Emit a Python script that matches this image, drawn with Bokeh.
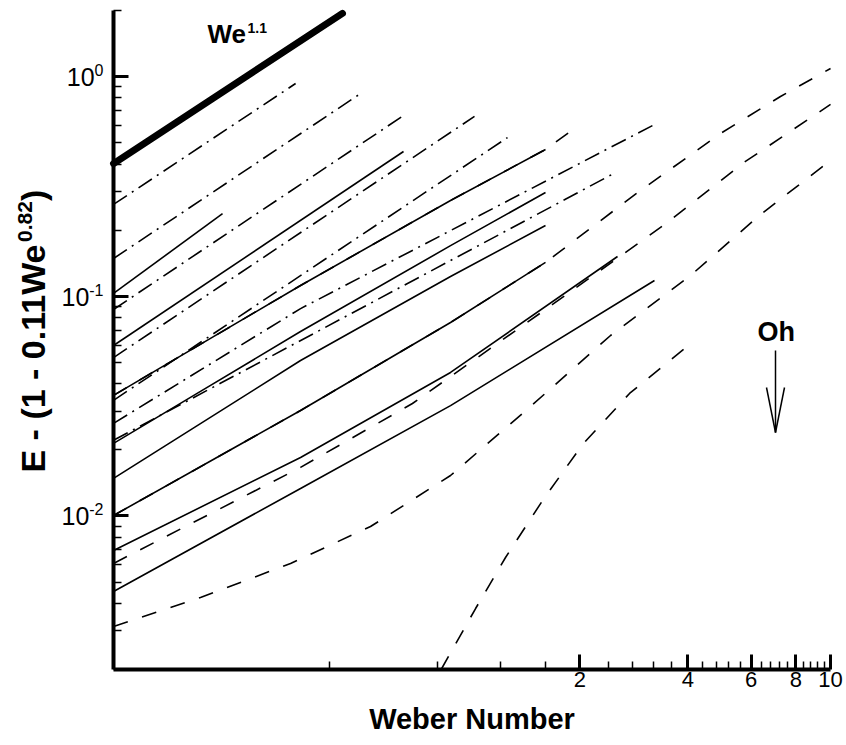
import math
from bokeh.plotting import figure
from bokeh.models import FixedTicker, Label, Arrow
from bokeh.embed import file_html
from bokeh.resources import INLINE

# ---------------- data (Weber number, E - (1 - 0.11 We^0.82)) ----------------
we_ref = [0.1, 0.435]
e_ref = [0.402, 1.94]

# dash-dot family
we_dd1 = [0.1, 0.322]
e_dd1 = [0.262, 0.930]
we_dd2 = [0.1, 0.489]
e_dd2 = [0.1486, 0.838]
we_dd3 = [0.1, 0.644]
e_dd3 = [0.0871, 0.665]
we_dd4 = [0.1, 1.016]
e_dd4 = [0.0526, 0.659]
we_dd5 = [0.1, 1.256]
e_dd5 = [0.0336, 0.528]
we_dd6 = [0.1, 0.3324, 3.188]
e_dd6 = [0.0264, 0.0879, 0.599]
we_dd7 = [0.1, 2.482]
e_dd7 = [0.0221, 0.362]

# solid family
we_s1 = [0.1, 0.2014]
e_s1 = [0.103, 0.238]
we_s2 = [0.1, 0.644]
e_s2 = [0.0597, 0.456]
we_s3 = [0.1, 0.3324, 0.871, 1.603]
e_s3 = [0.0354, 0.1120, 0.273, 0.466]
we_s4 = [0.1, 0.1748, 0.3324, 0.871, 1.603]
e_s4 = [0.0214, 0.0369, 0.0691, 0.170, 0.297]
we_s5 = [0.1, 0.3324, 0.871, 1.603]
e_s5 = [0.01482, 0.0510, 0.1230, 0.210]
we_s6 = [0.1, 0.3324, 0.871, 1.603]
e_s6 = [0.01005, 0.0302, 0.0760, 0.1426]
we_s7 = [0.1, 0.3324, 0.871, 2.546]
e_s7 = [0.00696, 0.01846, 0.0450, 0.1518]
we_s8 = [0.1, 0.3324, 0.871, 3.228]
e_s8 = [0.00453, 0.01334, 0.0318, 0.118]

# dashed family
we_d1 = [0.1, 0.3324, 0.871, 1.603, 2.876, 4.933, 7.25, 10.0]
e_d1 = [0.01005, 0.0302, 0.0760, 0.1426, 0.294, 0.551, 0.812, 1.089]
we_d2 = [0.1, 0.3324, 0.682, 1.677, 3.443, 5.79, 10.0]
e_d2 = [0.00608, 0.01664, 0.0325, 0.0918, 0.212, 0.411, 0.747]
we_d3 = [0.1, 0.1748, 0.3117, 0.521, 0.871, 1.456, 2.434, 4.07, 6.38, 10.0]
e_d3 = [0.00314, 0.00425, 0.00608, 0.00895, 0.01528, 0.0315, 0.0663, 0.1244, 0.2357, 0.415]
we_d4 = [0.82, 1.023, 1.240, 1.573, 2.033, 2.750, 4.044]
e_d4 = [0.002, 0.00379, 0.00647, 0.01176, 0.02114, 0.0361, 0.0603]
we_d5 = [0.1, 0.3324, 0.871, 1.603, 1.932]
e_d5 = [0.0354, 0.1120, 0.273, 0.466, 0.581]

x_major = [2, 4, 6, 8, 10]
x_minor = [0.4, 0.8, 1.2, 1.6, 2.4, 2.8, 3.2, 3.6, 4.4, 4.8, 5.2, 5.6,
           6.4, 6.8, 7.2, 7.6, 8.4, 8.8, 9.2, 9.6]
y_major = [0.01, 0.1, 1.0]
y_minor = [0.002, 0.003, 0.004, 0.005, 0.006, 0.007, 0.008, 0.009,
           0.02, 0.03, 0.04, 0.05, 0.06, 0.07, 0.08, 0.09,
           0.2, 0.3, 0.4, 0.5, 0.6, 0.7, 0.8, 0.9, 2.0]
y_exponents = ["-2", "-1", "0"]

FONT = "Liberation Sans"
W, H = 846, 745

# axes span We 0.1..10 over canvas x 113..830 and E 0.002..2 over canvas y 669..10;
# the plotting frame covers the whole canvas so all titles stay visible
p = figure(width=W, height=H, min_border=0,
           x_axis_type="log", y_axis_type="log",
           x_range=(0.04838, 11.08), y_range=(0.0009017, 2.2208),
           output_backend="svg", toolbar_location=None)
p.title.visible = False
p.grid.visible = False
p.outline_line_color = None
p.background_fill_color = "white"
p.border_fill_color = "white"

for ax in (p.xaxis[0], p.yaxis[0]):
    ax.axis_line_width = 4
    ax.axis_line_color = "black"
    ax.major_tick_line_width = 3
    ax.minor_tick_line_width = 1.5
    ax.major_tick_out = 0
    ax.minor_tick_out = 0
    ax.major_tick_in = 15
    ax.minor_tick_in = 8
    ax.major_label_text_font = FONT
    ax.major_label_text_color = "black"
    ax.axis_label = None

p.xaxis[0].fixed_location = 0.002
p.xaxis[0].bounds = (0.1, 10)
p.xaxis[0].ticker = FixedTicker(ticks=x_major, minor_ticks=x_minor)
p.xaxis[0].major_label_overrides = {v: str(v) for v in x_major}
p.xaxis[0].major_label_text_font_size = "22px"
p.xaxis[0].major_label_standoff = 2

p.yaxis[0].fixed_location = 0.1
p.yaxis[0].bounds = (0.002, 2)
p.yaxis[0].ticker = FixedTicker(ticks=y_major, minor_ticks=y_minor)
p.yaxis[0].major_label_overrides = {v: "" for v in y_major}

# reference power law
p.line(we_ref, e_ref, line_width=7, line_color="black", line_cap="round")

DD = "16 6 2 6"
DS = "15 15"
for xs, ys in [(we_dd1, e_dd1), (we_dd2, e_dd2), (we_dd3, e_dd3), (we_dd4, e_dd4),
               (we_dd5, e_dd5), (we_dd6, e_dd6), (we_dd7, e_dd7)]:
    p.line(xs, ys, line_width=1.6, line_color="black", line_dash=DD)

for xs, ys in [(we_s1, e_s1), (we_s2, e_s2), (we_s3, e_s3), (we_s4, e_s4),
               (we_s5, e_s5), (we_s6, e_s6), (we_s7, e_s7), (we_s8, e_s8)]:
    p.line(xs, ys, line_width=1.6, line_color="black")

for xs, ys in [(we_d1, e_d1), (we_d2, e_d2), (we_d3, e_d3), (we_d4, e_d4), (we_d5, e_d5)]:
    p.line(xs, ys, line_width=1.6, line_color="black", line_dash=DS)

BASE = 0.3465  # distance from text middle to alphabetic baseline, in em


def lab(x, y, text, size, angle=0.0, align="left", style="bold"):
    # x, y: canvas pixels (from top-left) of the text's alphabetic baseline start
    px = float(size.replace("px", ""))
    if angle:
        ax_, ay_ = x - BASE * px, y
    else:
        ax_, ay_ = x, y - BASE * px
    p.add_layout(Label(x=ax_, y=H - ay_, x_units="screen", y_units="screen", text=text,
                       angle=angle, text_align=align, text_baseline="middle",
                       text_font=FONT, text_font_style=style,
                       text_font_size=size, text_color="black"))


# y tick labels 10^n with real superscripts
tick_px = {"-2": 515.4, "-1": 295.8, "0": 76.1}
for ex in y_exponents:
    ty = tick_px[ex]
    sup_w = 8.9 if ex == "0" else 14.2
    lab(103 - sup_w, ty + 9, "10", "25px", align="right", style="normal")
    lab(103, ty - 1, ex, "16px", align="right", style="normal")

# y-axis title (rotated), with superscript
lab(44, 472, "E - (1 - 0.11We", "34px", angle=math.pi / 2)
lab(32, 241.5, "0.82", "21px", angle=math.pi / 2)
lab(44, 200.6, ")", "34px", angle=math.pi / 2)

# x-axis title
lab(471.5, 729, "Weber Number", "29px", align="center")

# We^1.1 label
lab(207, 43, "We", "26px")
lab(247, 32, "1.1", "14px")

# Oh label and arrow
lab(757, 341, "Oh", "27px")
for (xs, ys, xe, ye) in [(775, 350, 775, 432), (766, 387, 775, 432), (784, 387, 775, 432)]:
    p.add_layout(Arrow(x_start=xs, y_start=H - ys, x_end=xe, y_end=H - ye,
                       start_units="screen", end_units="screen",
                       start=None, end=None, line_width=1.5, line_color="black"))

open("out.html", "w").write(file_html(p, INLINE))
